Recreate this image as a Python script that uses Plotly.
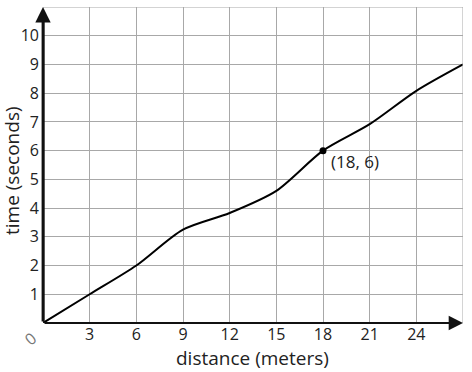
import plotly.graph_objects as go

# Data
distance = [0, 3, 6, 9, 12, 15, 18, 21, 24, 27]
time = [0, 1, 2, 3.25, 3.83, 4.6, 6, 6.92, 8.08, 9]
x_ticks = [3, 6, 9, 12, 15, 18, 21, 24]
y_ticks = [1, 2, 3, 4, 5, 6, 7, 8, 9, 10]
point_x = [18]
point_y = [6]
point_label = "(18, 6)"

FONT = "Open Sans"
W, H = 472, 372
ML, MR, MT, MB = 43, 9, 7, 49
PW, PH = W - ML - MR, H - MT - MB


def px(xp):
    return (xp - ML) / PW


def py(yp):
    return (H - MB - yp) / PH


fig = go.Figure()
fig.add_trace(go.Scatter(x=distance, y=time, mode="lines",
                         line=dict(color="black", width=2, shape="spline", smoothing=0.8),
                         hoverinfo="skip"))
fig.add_trace(go.Scatter(x=point_x, y=point_y, mode="markers",
                         marker=dict(color="black", size=7), hoverinfo="skip"))

grid = "#a8a8a8"
fig.update_layout(
    width=W, height=H,
    margin=dict(l=ML, r=MR, t=MT, b=MB, autoexpand=False),
    plot_bgcolor="white", paper_bgcolor="white",
    showlegend=False,
    font=dict(family=FONT, size=16, color="#222"),
    xaxis=dict(range=[0, 27], tickvals=x_ticks, showgrid=True, gridcolor=grid, gridwidth=1,
               zeroline=False, showline=False, ticks="", ticklabelstandoff=0,
               tickfont=dict(size=16, color="#222"), fixedrange=True, automargin=False),
    yaxis=dict(range=[0, 11], tickvals=y_ticks, showgrid=True, gridcolor=grid, gridwidth=1,
               zeroline=False, showline=False, ticks="", ticklabelstandoff=3,
               tickfont=dict(size=16, color="#222"), fixedrange=True, automargin=False),
)
# grid border lines at right and top
fig.add_shape(type="line", x0=27, x1=27, y0=0, y1=11, xref="x", yref="y",
              line=dict(color=grid, width=1))
fig.add_shape(type="line", x0=0, x1=27, y0=11, y1=11, xref="x", yref="y",
              line=dict(color=grid, width=1))
fig.add_shape(type="line", x0=0, x1=0, y0=0, y1=10.6, xref="x", yref="y",
              line=dict(color="#1a1a1a", width=3))
# axes arrows
fig.add_annotation(x=27, y=0, ax=0, ay=0, xref="x", yref="y", axref="x", ayref="y",
                   showarrow=True, arrowhead=2, arrowsize=1.3, arrowwidth=2.2, arrowcolor="#111", text="")
fig.add_annotation(x=0, y=11, ax=0, ay=0, xref="x", yref="y", axref="x", ayref="y",
                   showarrow=True, arrowhead=2, arrowsize=1.1, arrowwidth=2.8, arrowcolor="#111", text="")
# labels
fig.add_annotation(x=18.4, y=5.62, xref="x", yref="y", text=point_label, showarrow=False,
                   xanchor="left", yanchor="middle", font=dict(size=17, color="#222"))
fig.add_annotation(x=px(30), y=py(339), xref="paper", yref="paper", text="0", showarrow=False,
                   textangle=-40, xanchor="center", yanchor="middle",
                   font=dict(size=16, color="#777"))
fig.add_annotation(x=px(252), y=py(358), xref="paper", yref="paper", text="distance (meters)",
                   showarrow=False, xanchor="center", yanchor="middle",
                   font=dict(size=19, color="#222"))
fig.add_annotation(x=px(12), y=py(171), xref="paper", yref="paper", text="time (seconds)",
                   textangle=-90, showarrow=False, xanchor="center", yanchor="middle",
                   font=dict(size=19, color="#222"))

fig.write_html("out.html", config={"displayModeBar": False},
               post_script="document.body.style.margin='0';")
